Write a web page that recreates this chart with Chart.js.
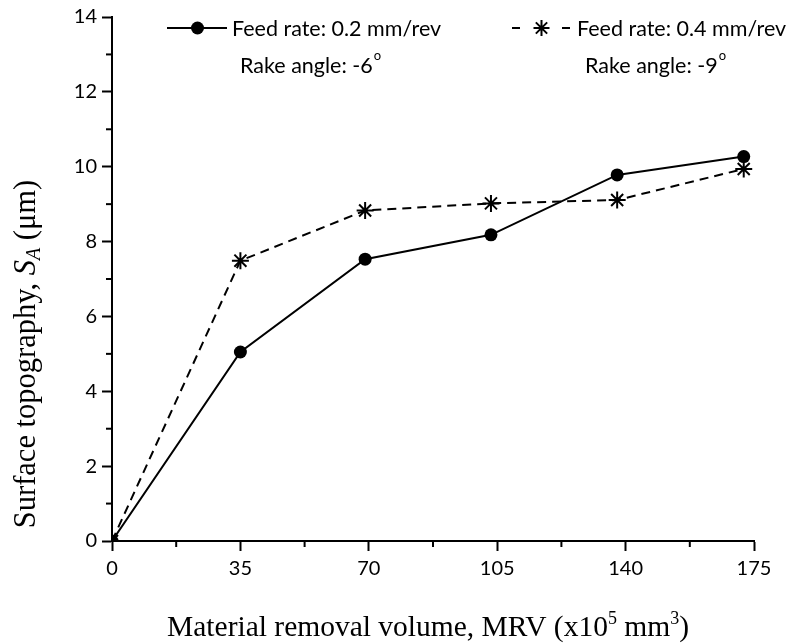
<!DOCTYPE html>
<html>
<head>
<meta charset="utf-8">
<script src="https://cdn.jsdelivr.net/npm/chart.js@4.4.0/dist/chart.umd.min.js"></script>
<style>
    html, body { margin: 0; padding: 0; background: #fff; }
    #wrap { width: 793px; height: 643px; position: relative; }
</style>
</head>
<body>
<div id="wrap"><canvas id="mrvChart"></canvas></div>
<script>
    // ============================================================
    // DATA
    // ============================================================
    const mrv = [0, 35, 69, 103.3, 137.7, 172.2];
    const feed02 = [0, 5.05, 7.53, 8.18, 9.78, 10.27];
    const feed04 = [0, 7.49, 8.83, 9.02, 9.11, 9.94];

    const xTicks = [0, 35, 70, 105, 140, 175];
    const yTicks = [0, 2, 4, 6, 8, 10, 12, 14];

    const legendLabels = ['Feed rate: 0.2 mm/rev', 'Feed rate: 0.4 mm/rev'];
    const rakeLabels = ['Rake angle: -6', 'Rake angle: -9'];

    const SANS = 'Lato, "Open Sans", sans-serif';
    const SERIF = '"Liberation Serif", "DejaVu Serif", serif';

    // ============================================================
    // PLUGIN: minor ticks, legend, axis titles
    // ============================================================
    const decorPlugin = {
        id: 'decor',
        afterDraw(chart) {
            const ctx = chart.ctx;
            const xs = chart.scales.x;
            const ys = chart.scales.y;
            const area = chart.chartArea;

            ctx.save();
            ctx.strokeStyle = '#000';
            ctx.lineWidth = 2;

            // minor ticks
            for (let i = 0; i < xTicks.length - 1; i++) {
                const px = xs.getPixelForValue((xTicks[i] + xTicks[i + 1]) / 2);
                ctx.beginPath();
                ctx.moveTo(px, area.bottom);
                ctx.lineTo(px, area.bottom + 6);
                ctx.stroke();
            }
            for (let i = 0; i < yTicks.length - 1; i++) {
                const py = ys.getPixelForValue((yTicks[i] + yTicks[i + 1]) / 2);
                ctx.beginPath();
                ctx.moveTo(area.left - 6, py);
                ctx.lineTo(area.left, py);
                ctx.stroke();
            }

            // legend
            ctx.fillStyle = '#000';
            ctx.font = '21.5px ' + SANS;
            ctx.textBaseline = 'middle';
            ctx.textAlign = 'left';

            // series 1: solid line + circle
            ctx.lineWidth = 2;
            ctx.setLineDash([]);
            ctx.beginPath();
            ctx.moveTo(167, 28);
            ctx.lineTo(227, 28);
            ctx.stroke();
            ctx.beginPath();
            ctx.arc(197.5, 28, 6.5, 0, Math.PI * 2);
            ctx.fill();
            ctx.fillText(legendLabels[0], 232, 29);

            // series 2: dashed line + star
            ctx.lineWidth = 2;
            ctx.setLineDash([8, 42]);
            ctx.beginPath();
            ctx.moveTo(512, 28);
            ctx.lineTo(571, 28);
            ctx.stroke();
            ctx.setLineDash([]);
            ctx.lineWidth = 2;
            const sx = 541.5, sy = 28, r = 8;
            ctx.beginPath();
            for (let k = 0; k < 4; k++) {
                const a = k * Math.PI / 4;
                ctx.moveTo(sx - r * Math.cos(a), sy - r * Math.sin(a));
                ctx.lineTo(sx + r * Math.cos(a), sy + r * Math.sin(a));
            }
            ctx.stroke();
            ctx.fillText(legendLabels[1], 577, 29);

            // rake angle lines with superscript degree
            const drawRake = (txt, x, y) => {
                ctx.font = '21.5px ' + SANS;
                ctx.fillText(txt, x, y);
                const w = ctx.measureText(txt).width;
                ctx.font = '13px ' + SANS;
                ctx.fillText('o', x + w + 1, y - 10);
            };
            drawRake(rakeLabels[0], 240, 66);
            drawRake(rakeLabels[1], 585, 66);

            // x axis title
            const xParts = [
                { t: 'Material removal volume, MRV (x10', sup: false },
                { t: '5', sup: true },
                { t: ' mm', sup: false },
                { t: '3', sup: true },
                { t: ')', sup: false }
            ];
            const big = '29.5px ' + SERIF;
            const small = '18px ' + SERIF;
            let total = 0;
            xParts.forEach(p => {
                ctx.font = p.sup ? small : big;
                p.w = ctx.measureText(p.t).width;
                total += p.w;
            });
            ctx.textBaseline = 'alphabetic';
            let cx = 428 - total / 2;
            xParts.forEach(p => {
                ctx.font = p.sup ? small : big;
                ctx.fillText(p.t, cx, p.sup ? 624 : 636);
                cx += p.w;
            });

            // y axis title (rotated)
            const yParts = [
                { t: 'Surface topography, ', f: '30.5px ' + SERIF, dy: 0 },
                { t: 'S', f: 'italic 30.5px ' + SERIF, dy: 0 },
                { t: 'A', f: 'italic 20px ' + SERIF, dy: 5 },
                { t: ' (\u03BCm)', f: '30.5px ' + SERIF, dy: 0 }
            ];
            total = 0;
            yParts.forEach(p => {
                ctx.font = p.f;
                p.w = ctx.measureText(p.t).width;
                total += p.w;
            });
            ctx.translate(35, 354);
            ctx.rotate(-Math.PI / 2);
            cx = -total / 2;
            yParts.forEach(p => {
                ctx.font = p.f;
                ctx.fillText(p.t, cx, p.dy);
                cx += p.w;
            });

            ctx.restore();
        }
    };

    // ============================================================
    // CHART
    // ============================================================
    const ctx = document.getElementById('mrvChart');

    new Chart(ctx, {
        type: 'line',
        data: {
            datasets: [
                {
                    label: legendLabels[0],
                    data: mrv.map((x, i) => ({ x: x, y: feed02[i] })),
                    borderColor: '#000',
                    backgroundColor: '#000',
                    borderWidth: 2,
                    pointStyle: 'circle',
                    pointRadius: 6.5,
                    pointBorderWidth: 0,
                    pointBackgroundColor: '#000',
                    tension: 0
                },
                {
                    label: legendLabels[1],
                    data: mrv.map((x, i) => ({ x: x, y: feed04[i] })),
                    borderColor: '#000',
                    backgroundColor: '#000',
                    borderWidth: 2,
                    borderDash: [9, 6],
                    pointStyle: 'star',
                    pointRadius: 8.5,
                    pointBorderWidth: 2,
                    pointBorderColor: '#000',
                    tension: 0
                }
            ]
        },
        options: {
            responsive: true,
            maintainAspectRatio: false,
            animation: false,
            layout: {
                padding: { left: 0, right: 39, top: 16, bottom: 0 }
            },
            plugins: {
                legend: { display: false },
                tooltip: { enabled: false }
            },
            scales: {
                x: {
                    type: 'linear',
                    min: 0,
                    max: 175,
                    afterFit: (scale) => { scale.height = 102; },
                    afterBuildTicks: (scale) => {
                        scale.ticks = xTicks.map(v => ({ value: v }));
                    },
                    ticks: {
                        color: '#000',
                        font: { family: SANS, size: 20 },
                        padding: 6,
                        maxRotation: 0
                    },
                    grid: {
                        drawOnChartArea: false,
                        drawTicks: true,
                        tickLength: 10,
                        tickWidth: 2,
                        tickColor: '#000'
                    },
                    border: { color: '#000', width: 2 }
                },
                y: {
                    min: 0,
                    max: 14,
                    afterFit: (scale) => { scale.width = 112; },
                    afterBuildTicks: (scale) => {
                        scale.ticks = yTicks.map(v => ({ value: v }));
                    },
                    ticks: {
                        color: '#000',
                        font: { family: SANS, size: 20 },
                        padding: 5
                    },
                    grid: {
                        drawOnChartArea: false,
                        drawTicks: true,
                        tickLength: 10,
                        tickWidth: 2,
                        tickColor: '#000'
                    },
                    border: { color: '#000', width: 2 }
                }
            }
        },
        plugins: [decorPlugin]
    });
</script>
</body>
</html>
